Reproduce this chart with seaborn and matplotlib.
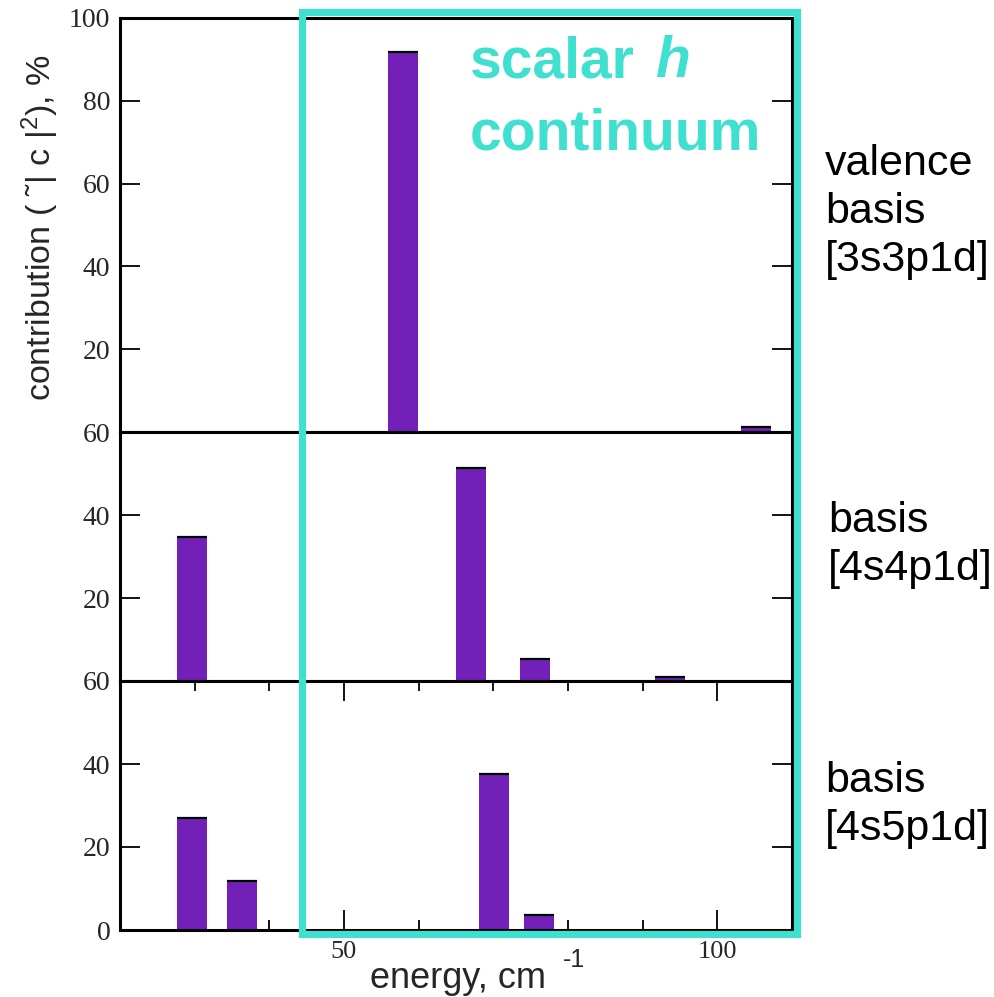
import numpy as np
import pandas as pd
import matplotlib
matplotlib.use("Agg")
import matplotlib.pyplot as plt
import matplotlib.patches as mpatches
from matplotlib.ticker import MultipleLocator, FixedLocator, FuncFormatter
import seaborn as sns

# ---------------- data ----------------
basis_labels = ["valence\nbasis\n[3s3p1d]", "basis\n[4s4p1d]", "basis\n[4s5p1d]"]
energy_3s3p1d = [57.9, 105.2]
contrib_3s3p1d = [91.7, 1.1]
energy_4s4p1d = [29.6, 67.0, 75.6, 93.7]
contrib_4s4p1d = [34.8, 51.4, 5.3, 1.0]
energy_4s5p1d = [29.6, 36.3, 70.1, 76.1]
contrib_4s5p1d = [26.9, 11.9, 37.5, 3.5]
panel_ymax = [100, 60, 60]
x_major_ticks = [50, 100]
x_minor_ticks = [30, 40, 60, 70, 80, 90]

# ---------------- style ----------------
sns.set_style("white")
plt.rcParams["font.family"] = ["Liberation Serif", "DejaVu Serif"]
plt.rcParams["mathtext.fontset"] = "custom"
plt.rcParams["mathtext.rm"] = "Liberation Sans"
plt.rcParams["mathtext.it"] = "Liberation Sans:italic"
plt.rcParams["mathtext.bf"] = "Liberation Sans:bold"

BAR = "#7220B8"
TURQ = "#40E0D0"
BAR_W = 4.0
SANS = ["Liberation Sans", "DejaVu Sans"]

W, H = 994, 997
fig = plt.figure(figsize=(W / 100, H / 100), dpi=100)

def fx(px):
    return px / W

def fy(py):
    return 1 - py / H

panels_px = [(18, 432), (432, 681), (681, 930)]
left_px, right_px = 120, 792

energies = [energy_3s3p1d, energy_4s4p1d, energy_4s5p1d]
contribs = [contrib_3s3p1d, contrib_4s4p1d, contrib_4s5p1d]

axes = []
for i, ((t, b), en, co, ymax) in enumerate(zip(panels_px, energies, contribs, panel_ymax)):
    ax = fig.add_axes([fx(left_px), fy(b), fx(right_px - left_px), (b - t) / H])
    df = pd.DataFrame({"energy": en, "contribution": co})
    min_diff = np.min(np.diff(np.sort(df["energy"].values)))
    sns.barplot(data=df, x="energy", y="contribution", native_scale=True,
                orient="x", width=BAR_W / min_diff, color=BAR, saturation=1,
                errorbar=None, linewidth=0, edgecolor="none", ax=ax)
    ax.hlines(df["contribution"], df["energy"] - BAR_W / 2, df["energy"] + BAR_W / 2,
              color="black", lw=1.6, zorder=3)
    ax.set_xlim(20, 110)
    ax.set_ylim(0, ymax)
    ax.set_xlabel("")
    ax.set_ylabel("")
    for s in ax.spines.values():
        s.set_linewidth(2.2)
        s.set_color("black")
        s.set_visible(True)
    ax.yaxis.set_major_locator(MultipleLocator(20))
    ax.tick_params(axis="y", which="major", direction="in", length=14.4, width=1.3,
                   left=True, right=True, labelsize=20, pad=7, color="black")
    if i < 2:
        ax.yaxis.set_major_formatter(FuncFormatter(lambda v, p: "" if v == 0 else f"{v:g}"))
        ax.tick_params(axis="x", which="both", bottom=False, top=False, labelbottom=False)
    else:
        ax.xaxis.set_major_locator(FixedLocator(x_major_ticks))
        ax.xaxis.set_minor_locator(FixedLocator(x_minor_ticks))
        ax.tick_params(axis="x", which="major", direction="in", length=14.4, width=1.3,
                       bottom=True, top=True, labelsize=19, pad=8, color="black")
        ax.tick_params(axis="x", which="minor", direction="in", length=7.2, width=1.3,
                       bottom=True, top=True, color="black")
    ax.set_facecolor("white")
    axes.append(ax)

# right-hand basis labels
label_centers = [(825, 212), (828, 545), (825, 805)]
for txt, (px, py) in zip(basis_labels, label_centers):
    fig.text(fx(px), fy(py), txt, ha="left", va="center", fontsize=31,
             linespacing=1.25, family=SANS, color="black")

# axis labels
fig.text(fx(40), fy(228), "contribution ( \u02dc| c |$^2$), %", rotation=90,
         ha="center", va="center", fontsize=24.5, family=SANS)
fig.text(fx(370), fy(988), "energy, cm", ha="left", va="baseline",
         fontsize=26, family=SANS)
fig.text(fx(563), fy(967), "-1", ha="left", va="baseline",
         fontsize=18, family=SANS)

# highlighted continuum region
rect = mpatches.Rectangle((fx(302), fy(934)), fx(797) - fx(302), fy(12) - fy(934),
                          transform=fig.transFigure, fill=False, edgecolor=TURQ,
                          lw=5.2, zorder=10)
fig.patches.append(rect)
fig.text(fx(470), fy(77), "scalar", ha="left", va="baseline", fontsize=41,
         fontweight="bold", family=SANS, color=TURQ)
fig.text(fx(655), fy(77), "h", ha="left", va="baseline", fontsize=41,
         fontweight="bold", fontstyle="italic", family=SANS, color=TURQ)
fig.text(fx(470), fy(150), "continuum", ha="left", va="baseline", fontsize=41,
         fontweight="bold", family=SANS, color=TURQ)

fig.savefig("out.png", dpi=100, facecolor="white")
